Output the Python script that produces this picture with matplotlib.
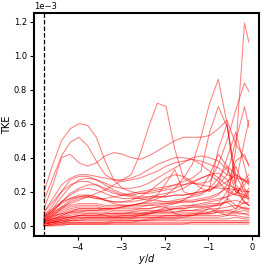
import numpy as np
import matplotlib
matplotlib.use("Agg")
import matplotlib.pyplot as plt

# y/d stations (shared by all profiles)
y_d = [-4.77, -4.57, -4.37, -4.17, -3.97, -3.77, -3.57, -3.37, -3.17, -2.97,
       -2.77, -2.57, -2.37, -2.17, -1.97, -1.77, -1.57, -1.37, -1.17, -0.97,
       -0.77, -0.57, -0.37, -0.17, -0.07]

# TKE profiles, in units of 1e-3
tke_01 = [0.20, 0.36, 0.50, 0.57, 0.60, 0.59, 0.52, 0.38, 0.27, 0.22, 0.20, 0.19, 0.19, 0.20, 0.21, 0.22, 0.24, 0.26, 0.28, 0.30, 0.26, 0.20, 0.18, 0.17, 0.16]
tke_02 = [0.15, 0.28, 0.41, 0.49, 0.52, 0.47, 0.38, 0.30, 0.27, 0.26, 0.27, 0.28, 0.30, 0.32, 0.35, 0.37, 0.38, 0.39, 0.38, 0.36, 0.34, 0.30, 0.28, 0.27, 0.26]
tke_03 = [0.10, 0.24, 0.40, 0.42, 0.37, 0.35, 0.37, 0.41, 0.43, 0.42, 0.40, 0.39, 0.41, 0.44, 0.47, 0.50, 0.52, 0.52, 0.52, 0.53, 0.57, 0.62, 0.48, 0.40, 0.36]
tke_04 = [0.05, 0.08, 0.11, 0.13, 0.15, 0.17, 0.19, 0.21, 0.24, 0.27, 0.30, 0.42, 0.58, 0.72, 0.70, 0.45, 0.28, 0.25, 0.24, 0.23, 0.22, 0.22, 0.21, 0.20, 0.20]
tke_05 = [0.04, 0.06, 0.07, 0.08, 0.08, 0.09, 0.09, 0.10, 0.10, 0.11, 0.12, 0.13, 0.14, 0.16, 0.18, 0.22, 0.28, 0.36, 0.52, 0.72, 0.86, 0.60, 0.22, 0.14, 0.12]
tke_06 = [0.03, 0.04, 0.05, 0.05, 0.06, 0.06, 0.06, 0.07, 0.07, 0.07, 0.08, 0.08, 0.08, 0.09, 0.09, 0.10, 0.10, 0.11, 0.11, 0.12, 0.12, 0.14, 0.45, 1.19, 1.08]
tke_07 = [0.06, 0.10, 0.14, 0.16, 0.17, 0.17, 0.16, 0.16, 0.17, 0.18, 0.19, 0.20, 0.21, 0.22, 0.23, 0.24, 0.24, 0.25, 0.25, 0.26, 0.36, 0.50, 0.68, 0.84, 0.79]
tke_08 = [0.08, 0.14, 0.20, 0.24, 0.26, 0.26, 0.24, 0.21, 0.19, 0.18, 0.18, 0.19, 0.20, 0.21, 0.22, 0.24, 0.26, 0.28, 0.32, 0.55, 0.70, 0.58, 0.30, 0.20, 0.16]
tke_09 = [0.05, 0.09, 0.13, 0.16, 0.18, 0.18, 0.17, 0.15, 0.14, 0.14, 0.14, 0.15, 0.16, 0.17, 0.17, 0.18, 0.18, 0.19, 0.20, 0.21, 0.24, 0.30, 0.50, 0.70, 0.58]
tke_10 = [0.04, 0.07, 0.10, 0.12, 0.13, 0.13, 0.13, 0.12, 0.12, 0.12, 0.12, 0.13, 0.13, 0.14, 0.14, 0.15, 0.16, 0.17, 0.18, 0.22, 0.45, 0.60, 0.25, 0.50, 0.62]
tke_11 = [0.03, 0.05, 0.07, 0.09, 0.10, 0.10, 0.10, 0.10, 0.10, 0.11, 0.12, 0.13, 0.15, 0.18, 0.25, 0.33, 0.20, 0.18, 0.19, 0.22, 0.28, 0.35, 0.30, 0.26, 0.25]
tke_12 = [0.06, 0.12, 0.20, 0.27, 0.29, 0.29, 0.27, 0.24, 0.21, 0.19, 0.18, 0.17, 0.17, 0.17, 0.17, 0.18, 0.18, 0.19, 0.20, 0.21, 0.23, 0.26, 0.30, 0.27, 0.24]
tke_13 = [0.05, 0.10, 0.17, 0.23, 0.27, 0.28, 0.27, 0.25, 0.23, 0.22, 0.22, 0.23, 0.25, 0.28, 0.31, 0.34, 0.37, 0.40, 0.41, 0.40, 0.38, 0.33, 0.24, 0.18, 0.15]
tke_14 = [0.04, 0.08, 0.14, 0.19, 0.22, 0.24, 0.24, 0.22, 0.20, 0.18, 0.17, 0.16, 0.15, 0.15, 0.14, 0.14, 0.14, 0.14, 0.15, 0.16, 0.18, 0.24, 0.38, 0.42, 0.35]
tke_15 = [0.05, 0.09, 0.14, 0.18, 0.21, 0.22, 0.21, 0.19, 0.17, 0.16, 0.16, 0.16, 0.17, 0.18, 0.19, 0.20, 0.22, 0.25, 0.28, 0.30, 0.31, 0.27, 0.20, 0.18, 0.17]
tke_16 = [0.04, 0.07, 0.11, 0.15, 0.17, 0.18, 0.17, 0.15, 0.13, 0.12, 0.12, 0.12, 0.12, 0.13, 0.13, 0.14, 0.15, 0.15, 0.16, 0.17, 0.19, 0.22, 0.18, 0.27, 0.30]
tke_17 = [0.03, 0.06, 0.09, 0.11, 0.12, 0.12, 0.12, 0.11, 0.11, 0.11, 0.11, 0.11, 0.12, 0.12, 0.13, 0.13, 0.14, 0.14, 0.15, 0.15, 0.16, 0.17, 0.22, 0.16, 0.20]
tke_18 = [0.03, 0.05, 0.08, 0.10, 0.11, 0.11, 0.11, 0.10, 0.10, 0.10, 0.10, 0.10, 0.10, 0.11, 0.11, 0.11, 0.12, 0.12, 0.12, 0.13, 0.13, 0.14, 0.15, 0.13, 0.14]
tke_19 = [0.02, 0.04, 0.06, 0.08, 0.09, 0.09, 0.09, 0.09, 0.08, 0.08, 0.08, 0.09, 0.09, 0.09, 0.10, 0.10, 0.10, 0.11, 0.11, 0.11, 0.12, 0.14, 0.10, 0.18, 0.22]
tke_20 = [0.02, 0.04, 0.05, 0.07, 0.08, 0.08, 0.08, 0.08, 0.07, 0.07, 0.07, 0.07, 0.08, 0.08, 0.08, 0.08, 0.09, 0.09, 0.09, 0.10, 0.10, 0.11, 0.12, 0.10, 0.09]
tke_21 = [0.02, 0.03, 0.05, 0.06, 0.07, 0.07, 0.07, 0.06, 0.06, 0.06, 0.06, 0.06, 0.07, 0.07, 0.07, 0.07, 0.08, 0.08, 0.08, 0.08, 0.09, 0.09, 0.10, 0.14, 0.12]
tke_22 = [0.01, 0.03, 0.04, 0.05, 0.06, 0.06, 0.06, 0.06, 0.05, 0.05, 0.05, 0.06, 0.06, 0.06, 0.06, 0.06, 0.07, 0.07, 0.07, 0.07, 0.08, 0.08, 0.08, 0.09, 0.08]
tke_23 = [0.01, 0.02, 0.03, 0.04, 0.05, 0.05, 0.05, 0.05, 0.05, 0.05, 0.05, 0.05, 0.05, 0.05, 0.05, 0.05, 0.06, 0.06, 0.06, 0.06, 0.06, 0.07, 0.07, 0.07, 0.06]
tke_24 = [0.01, 0.02, 0.03, 0.03, 0.04, 0.04, 0.04, 0.04, 0.04, 0.04, 0.04, 0.04, 0.04, 0.05, 0.05, 0.05, 0.05, 0.05, 0.05, 0.05, 0.05, 0.06, 0.06, 0.05, 0.05]
tke_25 = [0.01, 0.02, 0.02, 0.03, 0.03, 0.03, 0.03, 0.03, 0.03, 0.03, 0.03, 0.03, 0.04, 0.04, 0.04, 0.04, 0.04, 0.04, 0.04, 0.04, 0.04, 0.04, 0.05, 0.04, 0.04]
tke_26 = [0.00, 0.01, 0.02, 0.02, 0.02, 0.02, 0.02, 0.02, 0.02, 0.02, 0.02, 0.03, 0.03, 0.03, 0.03, 0.03, 0.03, 0.03, 0.03, 0.03, 0.03, 0.03, 0.03, 0.03, 0.03]
tke_27 = [0.00, 0.01, 0.01, 0.01, 0.01, 0.01, 0.01, 0.01, 0.02, 0.02, 0.02, 0.02, 0.02, 0.02, 0.02, 0.02, 0.02, 0.02, 0.02, 0.02, 0.02, 0.02, 0.02, 0.02, 0.02]
tke_28 = [0.00, 0.00, 0.01, 0.01, 0.01, 0.01, 0.01, 0.01, 0.01, 0.01, 0.01, 0.01, 0.01, 0.01, 0.01, 0.01, 0.01, 0.01, 0.01, 0.01, 0.01, 0.01, 0.01, 0.01, 0.01]
tke_29 = [0.02, 0.03, 0.04, 0.05, 0.05, 0.05, 0.05, 0.05, 0.05, 0.05, 0.05, 0.06, 0.07, 0.09, 0.11, 0.07, 0.06, 0.06, 0.07, 0.08, 0.10, 0.16, 0.12, 0.10, 0.10]
tke_30 = [0.03, 0.06, 0.10, 0.14, 0.16, 0.17, 0.16, 0.15, 0.14, 0.14, 0.15, 0.17, 0.20, 0.24, 0.28, 0.30, 0.29, 0.26, 0.22, 0.20, 0.25, 0.40, 0.55, 0.35, 0.25]
tke_31 = [0.02, 0.04, 0.06, 0.08, 0.10, 0.10, 0.10, 0.10, 0.09, 0.09, 0.09, 0.10, 0.10, 0.11, 0.12, 0.13, 0.15, 0.18, 0.22, 0.30, 0.42, 0.35, 0.20, 0.14, 0.12]
tke_32 = [0.01, 0.02, 0.04, 0.05, 0.06, 0.07, 0.07, 0.07, 0.07, 0.07, 0.07, 0.07, 0.07, 0.08, 0.08, 0.08, 0.09, 0.09, 0.10, 0.11, 0.13, 0.20, 0.35, 0.22, 0.18]
tke_33 = [0.08, 0.16, 0.24, 0.28, 0.30, 0.30, 0.29, 0.28, 0.27, 0.27, 0.28, 0.30, 0.33, 0.36, 0.38, 0.40, 0.40, 0.39, 0.36, 0.32, 0.28, 0.24, 0.22, 0.21, 0.20]
tke_34 = [0.01, 0.02, 0.03, 0.04, 0.04, 0.05, 0.05, 0.05, 0.05, 0.06, 0.06, 0.07, 0.07, 0.08, 0.09, 0.10, 0.11, 0.12, 0.13, 0.14, 0.15, 0.17, 0.19, 0.24, 0.28]
tke_35 = [0.00, 0.01, 0.01, 0.02, 0.02, 0.02, 0.02, 0.02, 0.03, 0.03, 0.03, 0.03, 0.03, 0.04, 0.04, 0.04, 0.05, 0.06, 0.08, 0.10, 0.08, 0.06, 0.09, 0.11, 0.10]
tke_36 = [0.01, 0.02, 0.02, 0.03, 0.03, 0.04, 0.04, 0.04, 0.04, 0.04, 0.04, 0.05, 0.05, 0.05, 0.06, 0.06, 0.06, 0.07, 0.07, 0.07, 0.08, 0.09, 0.08, 0.07, 0.07]
tke_37 = [0.00, 0.00, 0.00, 0.01, 0.01, 0.01, 0.01, 0.01, 0.01, 0.01, 0.01, 0.01, 0.01, 0.01, 0.01, 0.01, 0.01, 0.02, 0.02, 0.02, 0.02, 0.02, 0.02, 0.02, 0.02]

profiles = [tke_01, tke_02, tke_03, tke_04, tke_05, tke_06, tke_07, tke_08, tke_09,
            tke_10, tke_11, tke_12, tke_13, tke_14, tke_15, tke_16, tke_17, tke_18,
            tke_19, tke_20, tke_21, tke_22, tke_23, tke_24, tke_25, tke_26, tke_27,
            tke_28, tke_29, tke_30, tke_31, tke_32, tke_33, tke_34, tke_35, tke_36,
            tke_37]

fig = plt.figure(figsize=(2.66, 2.66), dpi=100)
ax = fig.add_axes([0.128, 0.113, 0.846, 0.838])

x = np.array(y_d)
for p in profiles:
    ax.plot(x, np.array(p) * 1e-3, color="red", alpha=0.5, lw=0.75)

# wall position
ax.axvline(y_d[0], color="black", ls="--", lw=0.9)

ax.set_xlim(-5.0, 0.165)
ax.set_ylim(-0.06e-3, 1.25e-3)
ax.set_xticks([-4, -3, -2, -1, 0])
ax.set_yticks([0, 0.2e-3, 0.4e-3, 0.6e-3, 0.8e-3, 1.0e-3, 1.2e-3])
ax.ticklabel_format(axis="y", style="sci", scilimits=(0, 0))
ax.yaxis.get_offset_text().set_fontsize(6)

ax.set_xlabel("$y/d$", fontsize=7, labelpad=0)
ax.set_ylabel("TKE", fontsize=7, labelpad=1)
ax.tick_params(labelsize=6, length=3, width=0.8, pad=2)
for s in ax.spines.values():
    s.set_linewidth(1.5)

fig.savefig("out.png", dpi=100)
